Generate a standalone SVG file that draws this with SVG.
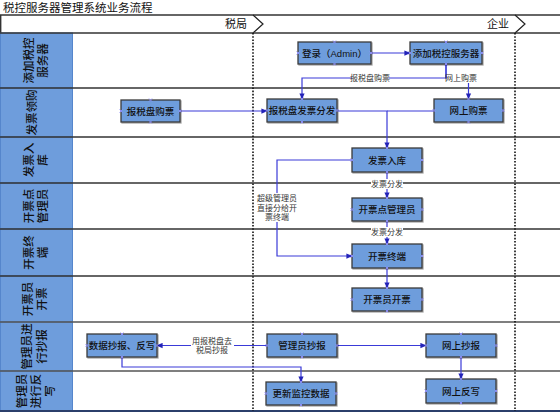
<svg xmlns="http://www.w3.org/2000/svg" width="560" height="413" viewBox="0 0 560 413">
<defs>
<style>
text{font-family:"Liberation Sans","Noto Sans CJK SC",sans-serif;}
.lane{fill:#6e9ddc;stroke:#5586cc;stroke-width:1}
.lt{font-size:11.5px;fill:#111;text-anchor:middle;font-weight:500}
.sep{stroke:#333;stroke-width:1.4}
.dot{stroke:#111;stroke-width:1.6;stroke-dasharray:1.6 1.6;fill:none}
.box{fill:#6e9ddc;stroke:#3a3a3a;stroke-width:1.3;filter:url(#sh)}
.nt{font-size:9.5px;fill:#111;text-anchor:middle;font-weight:500}
.c{fill:none;stroke:#3a3ad8;stroke-width:1.2}
.ca{marker-end:url(#ah)}
.cl{font-size:8px;fill:#333;text-anchor:middle}
.bg{fill:#fff}
.hd{font-size:11px;fill:#111;text-anchor:end}
</style>
<filter id="sh" x="-10%" y="-10%" width="130%" height="140%">
<feDropShadow dx="1" dy="1" stdDeviation="0.6" flood-color="#000" flood-opacity="0.35"/>
</filter>
<marker id="ah" viewBox="0 0 8 8" refX="7.5" refY="4" markerWidth="6" markerHeight="6" orient="auto" markerUnits="userSpaceOnUse">
<path d="M0,0.5 L8,4 L0,7.5 z" fill="#2323b8"/>
</marker>
<path id="cp" d="M-1.5,-1.5 L1.5,1.5 M-1.5,1.5 L1.5,-1.5" stroke="#9090ff" stroke-width="0.9" fill="none"/>
</defs>
<rect width="560" height="413" fill="#fff"/>
<text x="3" y="12" style="font-size:11.5px;fill:#111">税控服务器管理系统业务流程</text>

<g id="pool">
<line class="sep" x1="0" y1="15" x2="560" y2="15"/>
<line class="sep" x1="0.7" y1="15" x2="0.7" y2="411"/>
<text class="hd" x="247" y="28">税局</text>
<polyline points="253,15 263,24 253,33" fill="none" stroke="#222" stroke-width="1.2"/>
<text class="hd" x="509" y="28">企业</text>
<polyline points="515,15 525,24 515,33" fill="none" stroke="#222" stroke-width="1.2"/>
</g>

<g id="lane-labels">
<rect class="lane" x="0.5" y="33" width="72" height="55"/>
<rect class="lane" x="0.5" y="88" width="72" height="49"/>
<rect class="lane" x="0.5" y="137" width="72" height="46"/>
<rect class="lane" x="0.5" y="183" width="72" height="46"/>
<rect class="lane" x="0.5" y="229" width="72" height="47"/>
<rect class="lane" x="0.5" y="276" width="72" height="46"/>
<rect class="lane" x="0.5" y="322" width="72" height="49"/>
<rect class="lane" x="0.5" y="371" width="72" height="40"/>
<text class="lt" transform="translate(0,60.5) rotate(-90)"><tspan x="0" y="33">添加税控</tspan><tspan x="0" y="47">服务器</tspan></text>
<text class="lt" transform="translate(0,112.5) rotate(-90)"><tspan x="0" y="36">发票领购</tspan></text>
<text class="lt" transform="translate(0,160) rotate(-90)"><tspan x="0" y="33">发票入</tspan><tspan x="0" y="47">库</tspan></text>
<text class="lt" transform="translate(0,206) rotate(-90)"><tspan x="0" y="33">开票点</tspan><tspan x="0" y="47">管理员</tspan></text>
<text class="lt" transform="translate(0,252.5) rotate(-90)"><tspan x="0" y="33">开票终</tspan><tspan x="0" y="47">端</tspan></text>
<text class="lt" transform="translate(0,299) rotate(-90)"><tspan x="0" y="32">开票员</tspan><tspan x="0" y="46">开票</tspan></text>
<text class="lt" transform="translate(0,346.5) rotate(-90)"><tspan x="0" y="31">管理员进</tspan><tspan x="0" y="45.5">行抄报</tspan></text>
<text class="lt" transform="translate(0,391) rotate(-90)"><tspan x="0" y="26">管理员</tspan><tspan x="0" y="40">进行反</tspan><tspan x="0" y="54">写</tspan></text>
</g>

<g id="lanes">
<line class="sep" x1="0" y1="33" x2="560" y2="33"/>
<line class="sep" x1="0" y1="88" x2="560" y2="88"/>
<line class="sep" x1="0" y1="137" x2="560" y2="137"/>
<line class="sep" x1="0" y1="183" x2="560" y2="183"/>
<line class="sep" x1="0" y1="229" x2="560" y2="229"/>
<line class="sep" x1="0" y1="276" x2="560" y2="276"/>
<line class="sep" x1="0" y1="322" x2="560" y2="322" style="stroke:#555"/>
<line class="sep" x1="0" y1="371" x2="560" y2="371" style="stroke:#555"/>
<line class="sep" x1="0" y1="411" x2="560" y2="411" style="stroke:#2b3f6b;stroke-width:1.8"/>
<line class="dot" x1="253" y1="33" x2="253" y2="411"/>
<line class="dot" x1="515" y1="33" x2="515" y2="411"/>
</g>

<g id="connectors">
<path class="c ca" d="M371,53 H410"/>
<path class="c ca" d="M446,64 V78 H302 V99"/>
<path class="c ca" d="M446,64 V78 H468.5 V99"/>
<path class="c ca" d="M180,111 H267"/>
<path class="c ca" d="M337,111 H387 V148"/>
<path class="c" d="M434,111 H387"/>
<path class="c ca" d="M387,172 V198"/>
<path class="c ca" d="M387,221 V244"/>
<path class="c ca" d="M352,160 H277 V256 H352"/>
<path class="c ca" d="M387,268 V288"/>
<path class="c ca" d="M267,345.5 H157"/>
<path class="c ca" d="M337,345.5 H426"/>
<path class="c ca" d="M122,357 V367 H301 V382"/>
<path class="c ca" d="M461,357 V379"/>
<rect class="bg" x="352" y="73" width="37" height="10"/>
<text class="cl" x="370" y="81">报税盘购票</text>
<rect class="bg" x="447" y="73" width="29" height="10"/>
<text class="cl" x="461" y="81">网上购票</text>
<rect class="bg" x="371" y="179" width="32" height="10"/>
<text class="cl" x="387" y="187">发票分发</text>
<rect class="bg" x="371" y="227" width="32" height="10"/>
<text class="cl" x="387" y="235">发票分发</text>
<rect class="bg" x="256" y="193" width="42" height="29"/>
<text class="cl" x="277"><tspan x="277" y="201">超级管理员</tspan><tspan x="277" y="210.5">直接分给开</tspan><tspan x="277" y="220">票终端</tspan></text>
<rect class="bg" x="191" y="335" width="43" height="20"/>
<text class="cl"><tspan x="212" y="344">用报税盘去</tspan><tspan x="212" y="353">税局抄报</tspan></text>
</g>

<g id="n-login"><rect class="box" x="298" y="42" width="73" height="22"/><text class="nt" x="334.5" y="56.5">登录（Admin）</text></g>
<g id="n-add"><rect class="box" x="410" y="42" width="72" height="22"/><text class="nt" x="446" y="56.5">添加税控服务器</text></g>
<g id="n-buy"><rect class="box" x="121" y="100" width="59" height="22"/><text class="nt" x="150.5" y="114.5">报税盘购票</text></g>
<g id="n-dist"><rect class="box" x="267" y="99" width="70" height="23"/><text class="nt" x="302" y="114">报税盘发票分发</text></g>
<g id="n-online"><rect class="box" x="434" y="99" width="69" height="23"/><text class="nt" x="468.5" y="114">网上购票</text></g>
<g id="n-store"><rect class="box" x="352" y="148" width="70" height="24"/><text class="nt" x="387" y="163.5">发票入库</text></g>
<g id="n-admin"><rect class="box" x="352" y="198" width="70" height="23"/><text class="nt" x="387" y="213">开票点管理员</text></g>
<g id="n-term"><rect class="box" x="352" y="244" width="70" height="24"/><text class="nt" x="387" y="259.5">开票终端</text></g>
<g id="n-issue"><rect class="box" x="352" y="288" width="70" height="23"/><text class="nt" x="387" y="303">开票员开票</text></g>
<g id="n-data"><rect class="box" x="87" y="334" width="70" height="23"/><text class="nt" x="122" y="349">数据抄报、反写</text></g>
<g id="n-report"><rect class="box" x="267" y="334" width="70" height="23"/><text class="nt" x="302" y="349">管理员抄报</text></g>
<g id="n-oreport"><rect class="box" x="426" y="334" width="70" height="23"/><text class="nt" x="461" y="349">网上抄报</text></g>
<g id="n-update"><rect class="box" x="266" y="382" width="70" height="23"/><text class="nt" x="301" y="397">更新监控数据</text></g>
<g id="n-owrite"><rect class="box" x="426" y="379" width="70" height="24"/><text class="nt" x="461" y="394.5">网上反写</text></g>

<g id="connection-points">
<use href="#cp" x="334.5" y="42"/><use href="#cp" x="334.5" y="64"/><use href="#cp" x="298" y="53"/><use href="#cp" x="371" y="53"/>
<use href="#cp" x="446" y="42"/><use href="#cp" x="446" y="64"/><use href="#cp" x="410" y="53"/><use href="#cp" x="482" y="53"/>
<use href="#cp" x="150.5" y="100"/><use href="#cp" x="150.5" y="122"/><use href="#cp" x="121" y="111"/><use href="#cp" x="180" y="111"/>
<use href="#cp" x="302" y="99"/><use href="#cp" x="302" y="122"/><use href="#cp" x="267" y="110.5"/><use href="#cp" x="337" y="110.5"/>
<use href="#cp" x="468.5" y="99"/><use href="#cp" x="468.5" y="122"/><use href="#cp" x="434" y="110.5"/><use href="#cp" x="503" y="110.5"/>
<use href="#cp" x="387" y="148"/><use href="#cp" x="387" y="172"/><use href="#cp" x="352" y="160"/><use href="#cp" x="422" y="160"/>
<use href="#cp" x="387" y="198"/><use href="#cp" x="387" y="221"/><use href="#cp" x="352" y="209.5"/><use href="#cp" x="422" y="209.5"/>
<use href="#cp" x="387" y="244"/><use href="#cp" x="387" y="268"/><use href="#cp" x="352" y="256"/><use href="#cp" x="422" y="256"/>
<use href="#cp" x="387" y="288"/><use href="#cp" x="387" y="311"/><use href="#cp" x="352" y="299.5"/><use href="#cp" x="422" y="299.5"/>
<use href="#cp" x="122" y="334"/><use href="#cp" x="122" y="357"/><use href="#cp" x="87" y="345.5"/><use href="#cp" x="157" y="345.5"/>
<use href="#cp" x="302" y="334"/><use href="#cp" x="302" y="357"/><use href="#cp" x="267" y="345.5"/><use href="#cp" x="337" y="345.5"/>
<use href="#cp" x="461" y="334"/><use href="#cp" x="461" y="357"/><use href="#cp" x="426" y="345.5"/><use href="#cp" x="496" y="345.5"/>
<use href="#cp" x="301" y="382"/><use href="#cp" x="301" y="405"/><use href="#cp" x="266" y="393.5"/><use href="#cp" x="336" y="393.5"/>
<use href="#cp" x="461" y="379"/><use href="#cp" x="461" y="403"/><use href="#cp" x="426" y="391"/><use href="#cp" x="496" y="391"/>
</g>
</svg>
